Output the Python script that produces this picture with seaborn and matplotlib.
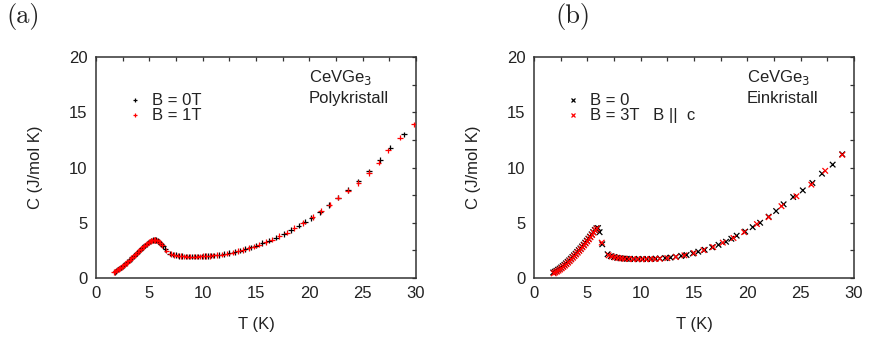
import numpy as np
import pandas as pd
import matplotlib
matplotlib.use("Agg")
import matplotlib.pyplot as plt
import seaborn as sns
from matplotlib.ticker import MultipleLocator

# ---------------- data ----------------
# Panel (a): polycrystal
Ta_0T = [1.75, 1.9, 2.05, 2.2, 2.35, 2.5, 2.65, 2.8, 2.95, 3.1, 3.25, 3.4, 3.55, 3.7, 3.85,
         4.0, 4.15, 4.3, 4.45, 4.6, 4.75, 4.9, 5.05, 5.2, 5.35, 5.5, 5.65, 5.8, 5.95, 6.1,
         6.3, 6.5, 6.9, 7.2, 7.5, 7.8, 8.1, 8.4, 8.7, 9.0, 9.3, 9.6, 9.9, 10.2, 10.5, 10.8,
         11.1, 11.5, 12.0, 12.5, 13.0, 13.5, 14.0, 14.5, 15.0, 15.6, 16.2, 16.9, 17.6, 18.3,
         19.0, 19.6, 20.2, 21.0, 21.8, 22.7, 23.6, 24.6, 25.6, 26.6, 27.6, 28.9]
Ca_0T = [0.55, 0.65, 0.75, 0.86, 0.97, 1.08, 1.2, 1.32, 1.45, 1.58, 1.72, 1.86, 2.0, 2.14, 2.28,
         2.42, 2.56, 2.7, 2.83, 2.96, 3.08, 3.2, 3.3, 3.38, 3.43, 3.45, 3.43, 3.37, 3.26, 3.1,
         2.88, 2.62, 2.2, 2.12, 2.06, 2.01, 1.97, 1.95, 1.94, 1.94, 1.94, 1.95, 1.96, 1.98, 2.0, 2.02,
         2.05, 2.09, 2.15, 2.24, 2.35, 2.48, 2.62, 2.77, 2.93, 3.15, 3.38, 3.65, 3.97, 4.35,
         4.75, 5.1, 5.45, 5.94, 6.6, 7.27, 7.95, 8.75, 9.65, 10.7, 11.8, 13.0]
Ta_1T = [1.7, 1.82, 1.97, 2.12, 2.27, 2.42, 2.57, 2.72, 2.87, 3.02, 3.17, 3.32, 3.47, 3.62, 3.77,
         3.92, 4.07, 4.22, 4.37, 4.52, 4.67, 4.82, 4.97, 5.12, 5.27, 5.42, 5.57, 5.72, 5.87, 6.02,
         6.2, 6.6, 7.0, 7.35, 7.65, 7.95, 8.25, 8.55, 8.85, 9.15, 9.45, 9.75, 10.05, 10.35, 10.65,
         11.0, 11.3, 11.8, 12.3, 12.8, 13.3, 13.8, 14.3, 14.8, 15.3, 15.9, 16.5, 17.2, 17.9, 18.6,
         19.4, 20.3, 21.1, 21.9, 22.7, 23.6, 24.6, 25.6, 26.5, 27.4, 28.5, 29.8]
Ca_1T = [0.52, 0.6, 0.7, 0.8, 0.91, 1.02, 1.14, 1.26, 1.38, 1.51, 1.65, 1.79, 1.93, 2.07, 2.21,
         2.35, 2.49, 2.63, 2.77, 2.9, 3.02, 3.14, 3.25, 3.34, 3.41, 3.44, 3.44, 3.4, 3.32, 3.18,
         2.98, 2.48, 2.18, 2.09, 2.03, 1.99, 1.96, 1.94, 1.93, 1.93, 1.94, 1.95, 1.97, 1.99, 2.01,
         2.04, 2.07, 2.12, 2.2, 2.3, 2.42, 2.55, 2.7, 2.85, 3.02, 3.25, 3.48, 3.78, 4.1, 4.5,
         4.98, 5.5, 6.05, 6.64, 7.27, 7.9, 8.6, 9.5, 10.45, 11.55, 12.7, 13.9]

# Panel (b): single crystal
Tb_0 = [1.8, 1.95, 2.1, 2.25, 2.4, 2.55, 2.7, 2.85, 3.0, 3.15, 3.3, 3.45, 3.6, 3.75, 3.9,
        4.05, 4.2, 4.35, 4.5, 4.65, 4.8, 4.95, 5.1, 5.25, 5.4, 5.55, 5.7, 5.85, 6.0, 6.15,
        6.4, 6.9, 7.2, 7.5, 7.8, 8.1, 8.4, 8.7, 9.0, 9.4, 9.8, 10.2, 10.6, 11.0, 11.4, 11.8,
        12.3, 12.8, 13.3, 13.8, 14.3, 14.9, 15.4, 16.0, 16.7, 17.3, 18.0, 18.5, 19.0, 19.8,
        20.5, 21.2, 22.0, 22.7, 23.4, 24.3, 25.2, 26.1, 27.0, 28.0, 28.9]
Cb_0 = [0.5, 0.57, 0.65, 0.75, 0.85, 0.96, 1.08, 1.2, 1.33, 1.47, 1.6, 1.75, 1.9, 2.05, 2.2,
        2.36, 2.52, 2.68, 2.85, 3.02, 3.2, 3.38, 3.56, 3.75, 3.95, 4.15, 4.35, 4.5, 4.52, 4.15,
        3.05, 2.15, 1.98, 1.9, 1.83, 1.79, 1.76, 1.74, 1.73, 1.72, 1.72, 1.72, 1.72, 1.73, 1.75, 1.77,
        1.8, 1.85, 1.92, 2.0, 2.08, 2.22, 2.38, 2.55, 2.78, 3.0, 3.28, 3.55, 3.83, 4.2,
        4.6, 5.0, 5.55, 6.06, 6.67, 7.33, 7.93, 8.6, 9.44, 10.26, 11.2]
Tb_3T = [1.85, 2.0, 2.15, 2.3, 2.45, 2.6, 2.75, 2.9, 3.05, 3.2, 3.35, 3.5, 3.65, 3.8, 3.95,
         4.1, 4.25, 4.4, 4.55, 4.7, 4.85, 5.0, 5.15, 5.3, 5.45, 5.6, 5.75, 5.9,
         6.35, 7.0, 7.3, 7.6, 7.9, 8.2, 8.5, 8.9, 9.3, 9.7, 10.1, 10.5, 10.9, 11.3, 11.8,
         12.5, 13.3, 14.1, 15.0, 15.9, 16.8, 17.7, 18.7, 19.7, 20.9, 22.0, 23.2, 24.6, 26.0,
         27.3, 28.9]
Cb_3T = [0.42, 0.5, 0.58, 0.67, 0.77, 0.88, 1.0, 1.12, 1.25, 1.39, 1.53, 1.68, 1.83, 1.98, 2.13,
         2.29, 2.45, 2.61, 2.78, 2.95, 3.13, 3.31, 3.5, 3.69, 3.89, 4.1, 4.32, 4.48,
         3.2, 2.05, 1.95, 1.87, 1.81, 1.77, 1.74, 1.72, 1.71, 1.7, 1.7, 1.7, 1.71, 1.72, 1.74,
         1.8, 1.9, 2.05, 2.25, 2.52, 2.8, 3.2, 3.62, 4.15, 4.88, 5.5, 6.5, 7.4, 8.45,
         9.7, 11.15]

labels_a = ["B = 0T", "B = 1T"]
labels_b = ["B = 0", "B = 3T   B ||  c"]
colors = ["black", "red"]

df_a = pd.concat([
    pd.DataFrame({"T": Ta_0T, "C": Ca_0T, "series": labels_a[0]}),
    pd.DataFrame({"T": Ta_1T, "C": Ca_1T, "series": labels_a[1]}),
], ignore_index=True)
df_b = pd.concat([
    pd.DataFrame({"T": Tb_0, "C": Cb_0, "series": labels_b[0]}),
    pd.DataFrame({"T": Tb_3T, "C": Cb_3T, "series": labels_b[1]}),
], ignore_index=True)

# ---------------- plot ----------------
sns.set_style("white")
plt.rcParams["font.family"] = ["Liberation Sans", "DejaVu Sans"]

fig = plt.figure(figsize=(8.69, 3.37), dpi=100)
ax_a = fig.add_axes([96 / 869, 1 - 278 / 337, 320 / 869, 221 / 337])
ax_b = fig.add_axes([534 / 869, 1 - 278 / 337, 320 / 869, 221 / 337])

panels = [
    (ax_a, df_a, labels_a, "+", "Polykristall", "(a)", 6 / 869),
    (ax_b, df_b, labels_b, "x", "Einkristall", "(b)", 555 / 869),
]

for ax, df, labels, marker, sample, tag, tagx in panels:
    sns.scatterplot(data=df, x="T", y="C", hue="series", hue_order=labels,
                    palette=colors, marker=marker, s=16, linewidth=0.9,
                    ax=ax, legend=False, zorder=3)
    ax.set_xlim(0, 30)
    ax.set_ylim(0, 20)
    ax.xaxis.set_major_locator(MultipleLocator(5))
    ax.yaxis.set_major_locator(MultipleLocator(5))
    ax.xaxis.set_minor_locator(MultipleLocator(2.5))
    ax.yaxis.set_minor_locator(MultipleLocator(2.5))
    ax.tick_params(which="both", direction="in", top=True, right=True,
                   length=3, width=0.9, color="#333333")
    ax.tick_params(which="major", labelsize=12, pad=6, labelcolor="#222222")
    for sp in ax.spines.values():
        sp.set_linewidth(1.1)
        sp.set_color("#333333")
    ax.set_xlabel("T (K)", fontsize=12, labelpad=11, color="#222222")
    ax.set_ylabel("C (J/mol K)", fontsize=12, labelpad=19, color="#222222")

    # legend
    handles = [plt.Line2D([], [], linestyle="none", marker=marker, color=c,
                          markersize=3.5, markeredgewidth=0.9) for c in colors]
    ax.legend(handles, labels, loc="upper left", bbox_to_anchor=(0.095, 0.835),
              frameon=False, fontsize=12, handlelength=1.0, handletextpad=0.55,
              labelspacing=0.0, borderaxespad=0, borderpad=0, labelcolor="#222222")

    ax.text(0.665, 0.95, "CeVGe$_3$", transform=ax.transAxes, fontsize=12,
            va="top", ha="left", color="#222222")
    ax.text(0.665, 0.845, sample, transform=ax.transAxes, fontsize=12,
            va="top", ha="left", color="#222222")

    fig.text(tagx, 0.99, tag, fontsize=19, va="top", ha="left",
             family=["cmr10", "DejaVu Serif"], color="#222222")

fig.savefig("out.png", dpi=100)
